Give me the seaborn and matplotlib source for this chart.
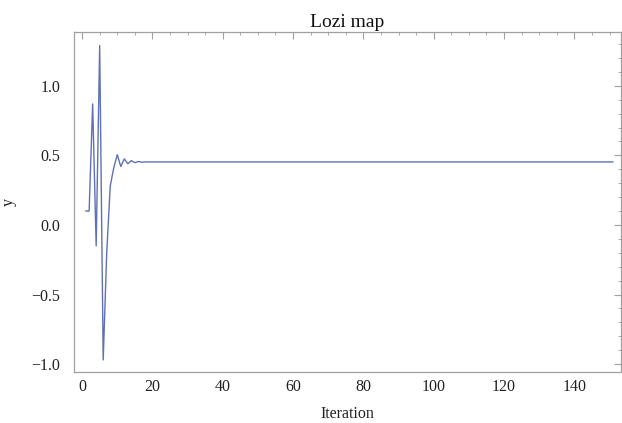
import matplotlib
matplotlib.use("Agg")
import matplotlib.pyplot as plt
import seaborn as sns
import pandas as pd
from matplotlib.ticker import MultipleLocator, FuncFormatter

# data
iteration = list(range(1, 152))
y_early = [0.10, 0.10, 0.87, -0.15, 1.29, -0.97, -0.20, 0.28, 0.41, 0.505,
           0.42, 0.475, 0.44, 0.462, 0.448, 0.456, 0.451]
y_tail_value = 0.453  # flat level for the remaining iterations
y_values = y_early + [y_tail_value] * (len(iteration) - len(y_early))

title = "Lozi map"
x_label = "Iteration"
y_label = "y"

sns.set_style("white")
plt.rcParams['font.family'] = ['Liberation Serif', 'DejaVu Serif']

df = pd.DataFrame({"Iteration": iteration, "y": y_values})

fig = plt.figure(figsize=(6.22, 4.23), dpi=100)
ax = fig.add_axes([0.119, 0.1206, 0.879, 0.8034])
sns.lineplot(data=df, x="Iteration", y="y", ax=ax, color="#5f70b8", linewidth=1.0)

ax.set_xlim(-2.3, 153.2)
ax.set_ylim(-1.057, 1.386)
ax.xaxis.set_major_locator(MultipleLocator(20))
ax.xaxis.set_minor_locator(MultipleLocator(5))
ax.yaxis.set_major_locator(MultipleLocator(0.5))
ax.yaxis.set_minor_locator(MultipleLocator(0.1))
ax.yaxis.set_major_formatter(FuncFormatter(lambda v, p: f"{v:.1f}".replace("-", "\u2212")))

frame_col = "#a0a0a0"
for s in ax.spines.values():
    s.set_color(frame_col)
    s.set_linewidth(0.9)
ax.tick_params(which="both", direction="in", top=True, right=True, color=frame_col,
               labelcolor="#222222", labelsize=11.5)
ax.tick_params(which="major", length=5, width=0.8)
ax.tick_params(which="minor", length=2.5, width=0.6)
ax.tick_params(axis="x", which="both", labeltop=False, pad=5)
ax.tick_params(axis="y", which="both", labelright=False, pad=10)

ax.set_title(title, fontsize=14, color="#111111", pad=4)
ax.set_xlabel(x_label, fontsize=11.5, color="#222222", labelpad=8)
ax.set_ylabel(y_label, fontsize=11.5, color="#222222")
ax.yaxis.set_label_coords(-0.105, 0.5)

fig.savefig("out.png", dpi=100)
